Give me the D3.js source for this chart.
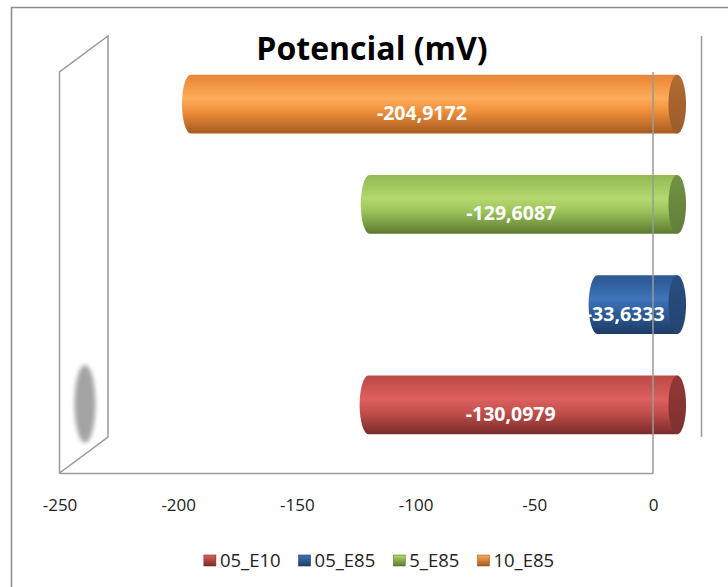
<!DOCTYPE html>
<html>
<head>
<meta charset="utf-8">
<script src="https://cdn.jsdelivr.net/npm/d3@7/dist/d3.min.js"></script>
<style>
  html, body { margin: 0; padding: 0; background: #fff; }
  svg { display: block; font-family: "Open Sans", "DejaVu Sans", sans-serif; }
</style>
</head>
<body>
<svg id="chart" width="728" height="587"></svg>
<script>
// Series (one per cylinder), listed in legend order
const seriesNames = ["05_E10", "05_E85", "5_E85", "10_E85"];
const seriesValues = [-130.0979, -33.6333, -129.6087, -204.9172];
const xTicks = [-250, -200, -150, -100, -50, 0];
const titleText = "Potencial (mV)";

// Shading per series: [top, highlight, bottom, end cap]
const palette = {
  "05_E10": ["#c4504d", "#dc605d", "#7a2b29", "#8a3533"],
  "05_E85": ["#2f5e9c", "#3f74b9", "#1d3c66", "#264a7a"],
  "5_E85":  ["#9cc35b", "#b4d86e", "#5c7a2f", "#6b8a3f"],
  "10_E85": ["#f0903c", "#fdac5b", "#a4591e", "#a9652f"]
};

const svg = d3.select("#chart");
const W = 728, H = 587;

// Plot geometry: front plane and depth offset for the 3D box
const front = { left: 59.5, right: 653, top: 72, bottom: 473 };
const depth = { dx: 48.5, dy: -36 };
const mid = { dx: depth.dx / 2, dy: depth.dy / 2 };

const x = d3.scaleLinear().domain([-250, 0]).range([front.left, front.right]);

// Bars sit on the middle depth plane; first series at the bottom
const y = d3.scaleBand()
  .domain(seriesNames.slice().reverse())
  .range([front.top + mid.dy, front.bottom + mid.dy])
  .paddingInner(0.416)
  .paddingOuter(0.208);

const fmt = d3.formatLocale({ decimal: ",", thousands: ".", grouping: [3], currency: ["", ""], minus: "-" }).format(".4f");

const defs = svg.append("defs");
seriesNames.forEach((name, i) => {
  const c = palette[name];
  const g = defs.append("linearGradient").attr("id", "body" + i)
    .attr("x1", 0).attr("y1", 0).attr("x2", 0).attr("y2", 1);
  g.append("stop").attr("offset", "0%").attr("stop-color", d3.color(c[0]).darker(0.15));
  g.append("stop").attr("offset", "12%").attr("stop-color", c[0]);
  g.append("stop").attr("offset", "40%").attr("stop-color", c[1]);
  g.append("stop").attr("offset", "62%").attr("stop-color", c[0]);
  g.append("stop").attr("offset", "100%").attr("stop-color", c[2]);

  const cg = defs.append("linearGradient").attr("id", "cap" + i)
    .attr("x1", 0).attr("y1", 0).attr("x2", 0).attr("y2", 1);
  cg.append("stop").attr("offset", "0%").attr("stop-color", d3.color(c[3]).brighter(0.15));
  cg.append("stop").attr("offset", "100%").attr("stop-color", d3.color(c[3]).darker(0.25));

  const lg = defs.append("linearGradient").attr("id", "leg" + i)
    .attr("x1", 0).attr("y1", 0).attr("x2", 0).attr("y2", 1);
  lg.append("stop").attr("offset", "0%").attr("stop-color", c[1]);
  lg.append("stop").attr("offset", "100%").attr("stop-color", c[2]);
});
defs.append("filter").attr("id", "soft")
  .attr("x", "-50%").attr("y", "-50%").attr("width", "200%").attr("height", "200%")
  .append("feGaussianBlur").attr("stdDeviation", 2.2);

// Chart area border
svg.append("rect")
  .attr("x", 11.5).attr("y", 7.5).attr("width", W + 20).attr("height", H + 20)
  .attr("fill", "none").attr("stroke", "#8c8c8c").attr("stroke-width", 1.5);

// Title
svg.append("text")
  .attr("x", 372).attr("y", 60)
  .attr("text-anchor", "middle")
  .attr("font-size", 32).attr("font-weight", 700).attr("fill", "#000")
  .text(titleText);

const lineColor = "#9a9a9a";

// Left side wall
svg.append("path")
  .attr("d", `M${front.left},${front.bottom} L${front.left},${front.top} L${front.left + depth.dx},${front.top + depth.dy} L${front.left + depth.dx},${front.bottom + depth.dy} Z`)
  .attr("fill", "none").attr("stroke", lineColor).attr("stroke-width", 1.5);

// Soft shadow on the side wall
svg.append("ellipse")
  .attr("cx", 85).attr("cy", y("05_E10") + y.bandwidth() / 2 - 1)
  .attr("rx", 10.5).attr("ry", 39)
  .attr("fill", "#a4a4a4").attr("filter", "url(#soft)");

// Right edge of the back plane
svg.append("line")
  .attr("x1", front.right + depth.dx).attr("x2", front.right + depth.dx)
  .attr("y1", front.top + depth.dy).attr("y2", front.bottom + depth.dy)
  .attr("stroke", lineColor).attr("stroke-width", 1.5);

// Cylinders
const rx = 8.8;
const x0 = x(0) + mid.dx;
const bars = svg.append("g").selectAll("g")
  .data(seriesNames.map((n, i) => ({ name: n, value: seriesValues[i], i })))
  .join("g");

bars.append("path")
  .attr("d", d => {
    const xl = x(d.value) + mid.dx, xr = x0;
    const t = y(d.name), b = t + y.bandwidth(), ry = y.bandwidth() / 2;
    return `M${xr},${t} L${xl},${t} A${rx},${ry} 0 0 0 ${xl},${b} L${xr},${b} Z`;
  })
  .attr("fill", d => `url(#body${d.i})`);

bars.append("ellipse")
  .attr("cx", x0)
  .attr("cy", d => y(d.name) + y.bandwidth() / 2)
  .attr("rx", rx)
  .attr("ry", y.bandwidth() / 2)
  .attr("fill", d => `url(#cap${d.i})`);

// Value axis on the front floor edge
const axis = svg.append("g")
  .attr("transform", `translate(0,${front.bottom})`)
  .call(d3.axisBottom(x).tickValues(xTicks).tickFormat(d => String(d)).tickSize(0).tickPadding(26));
axis.select(".domain").attr("stroke", lineColor).attr("stroke-width", 1.5);
axis.selectAll("text")
  .attr("font-family", "'Open Sans', sans-serif")
  .attr("font-size", 17).attr("fill", "#222");

// Zero line on the front plane
svg.append("line")
  .attr("x1", x(0)).attr("x2", x(0))
  .attr("y1", front.top).attr("y2", front.bottom)
  .attr("stroke", lineColor).attr("stroke-width", 1.5);

// Value labels
bars.append("text")
  .attr("x", d => ((x(d.value) + mid.dx) + x0) / 2 - mid.dx / 2)
  .attr("y", d => y(d.name) + y.bandwidth() / 2 - mid.dy / 2 + 7)
  .attr("text-anchor", "middle")
  .attr("font-size", 19.5).attr("font-weight", 700).attr("fill", "#fff")
  .text(d => fmt(d.value));

// Legend
const legend = svg.append("g").attr("transform", "translate(0,567)");
const items = legend.selectAll("g").data(seriesNames).join("g");
items.append("rect")
  .attr("x", 0).attr("y", -12).attr("width", 12).attr("height", 11)
  .attr("fill", (d, i) => `url(#leg${i})`)
  .attr("stroke", d => palette[d][2]).attr("stroke-width", 0.6);
items.append("text")
  .attr("x", 16).attr("y", 0)
  .attr("font-size", 18.5).attr("fill", "#222")
  .text(d => d);
let cursor = 0;
const widths = [];
items.each(function () {
  const w = 16 + this.querySelector("text").getComputedTextLength();
  widths.push(w);
});
const gap = 18;
const total = d3.sum(widths) + gap * (widths.length - 1);
cursor = 379 - total / 2;
items.attr("transform", (d, i) => {
  const tx = cursor;
  cursor += widths[i] + gap;
  return `translate(${tx},0)`;
});
</script>
</body>
</html>
